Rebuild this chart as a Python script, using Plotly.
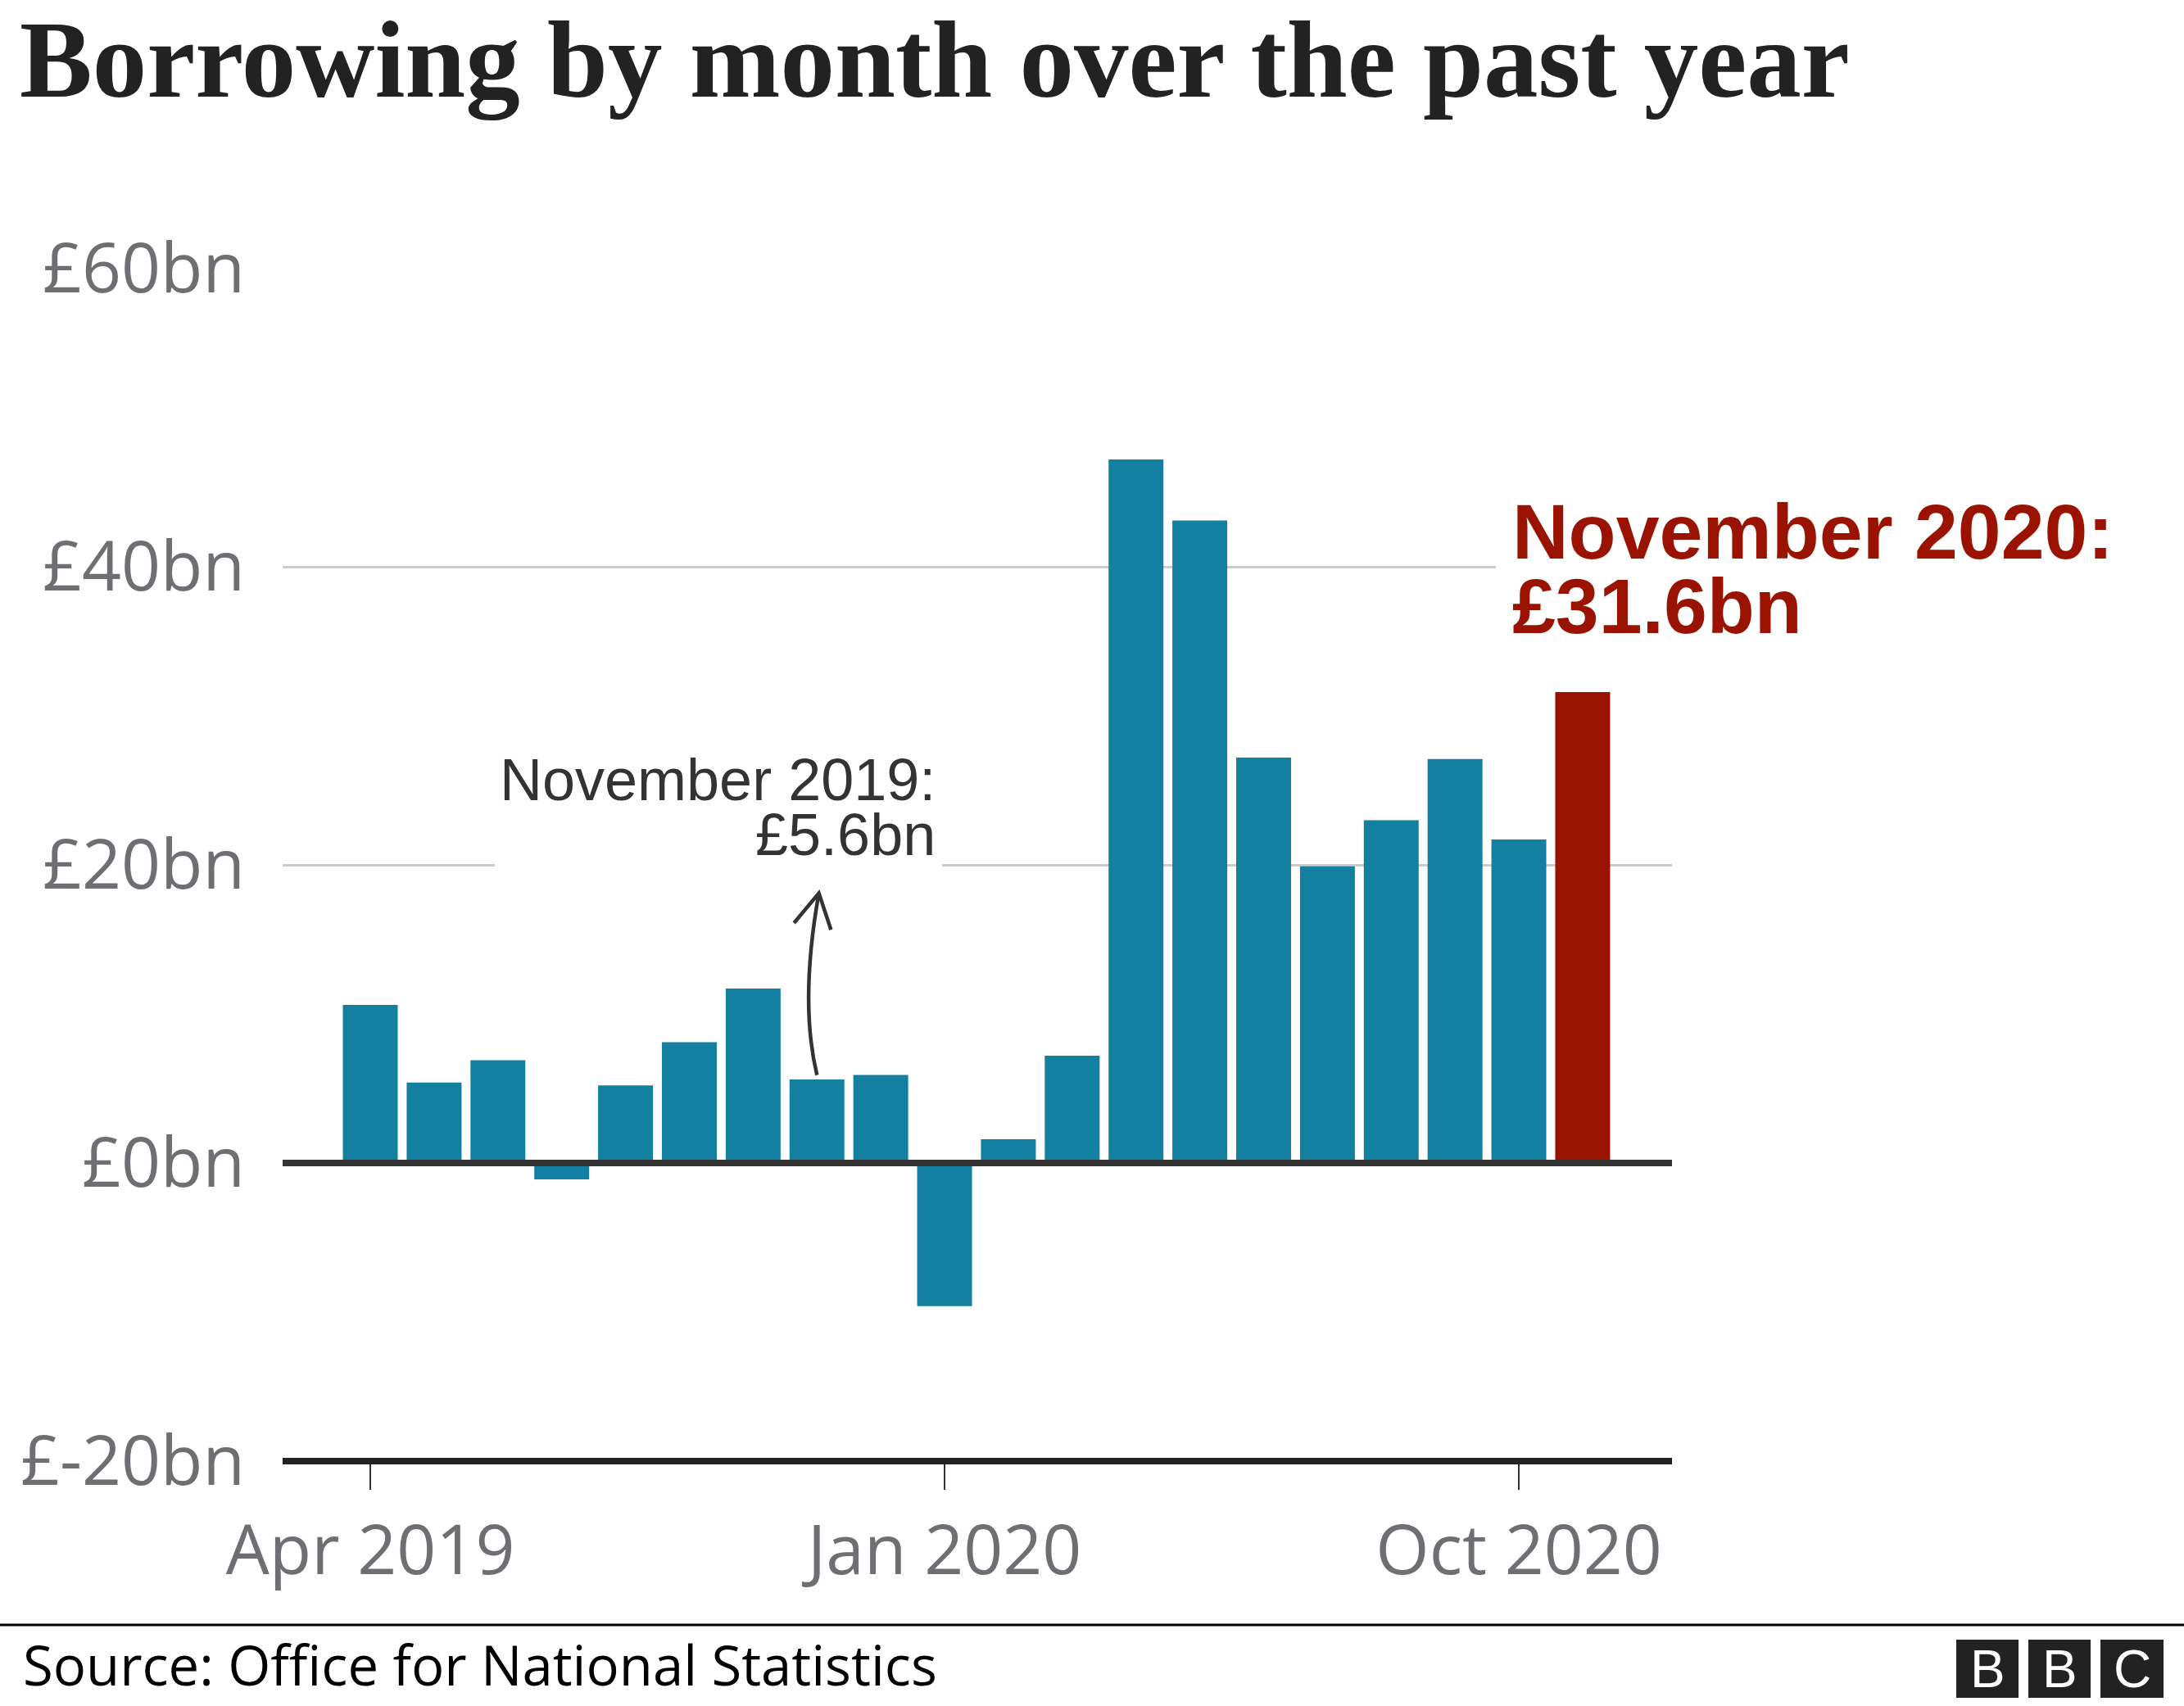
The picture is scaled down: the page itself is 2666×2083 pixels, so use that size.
import plotly.graph_objects as go

# ---------------- data ----------------
months = ["Apr 2019", "May 2019", "Jun 2019", "Jul 2019", "Aug 2019", "Sep 2019",
          "Oct 2019", "Nov 2019", "Dec 2019", "Jan 2020", "Feb 2020", "Mar 2020",
          "Apr 2020", "May 2020", "Jun 2020", "Jul 2020", "Aug 2020", "Sep 2020",
          "Oct 2020", "Nov 2020"]
borrowing_bn = [10.6, 5.4, 6.9, -1.1, 5.2, 8.1, 11.7, 5.6, 5.9, -9.6,
                1.6, 7.2, 47.2, 43.1, 27.2, 19.9, 23.0, 27.1, 21.7, 31.6]
highlight_month = "Nov 2020"
note_month = "Nov 2019"
x_tick_labels = ["Apr 2019", "Jan 2020", "Oct 2020"]
y_tick_values = [-20, 0, 20, 40, 60]
y_tick_labels = ["£-20bn", "£0bn", "£20bn", "£40bn", "£60bn"]

title_text = "Borrowing by month over the past year"
note_lines = ["November 2019:", "£5.6bn"]
highlight_lines = ["November 2020:", "£31.6bn"]
source_text = "Source: Office for National Statistics"

# ---------------- styling ----------------
BLUE = "#1380A1"
RED = "#9A1300"
GREY_TXT = "#6E6E73"
GRID = "#CCCCCC"
DARK = "#333333"

W, H = 2666, 2083
PL, PR, PT, PB = 345, 2041, 328, 1784
XR = [-1.374, 20.40]
YR = [-20, 60]


def px_x(px):
    return (px - PL) / (PR - PL)


def px_y(py):
    return (PB - py) / (PB - PT)


def dx(px):
    return XR[0] + (px - PL) / (PR - PL) * (XR[1] - XR[0])


def dy(py):
    return YR[0] + (PB - py) / (PB - PT) * (YR[1] - YR[0])


x_idx = list(range(len(months)))
colors = [RED if m == highlight_month else BLUE for m in months]

fig = go.Figure(go.Bar(x=x_idx, y=borrowing_bn,
                       marker=dict(color=colors, line=dict(width=0)),
                       hoverinfo="skip"))

fig.update_layout(
    width=W, height=H,
    margin=dict(l=PL, r=W - PR, t=PT, b=H - PB, pad=0),
    paper_bgcolor="white", plot_bgcolor="white",
    showlegend=False, bargap=0.14,
    xaxis=dict(range=XR, tickmode="array",
               tickvals=[months.index(t) for t in x_tick_labels],
               ticktext=x_tick_labels,
               ticks="outside", ticklen=34, tickwidth=2, tickcolor=DARK,
               showgrid=False, zeroline=False, showline=False,
               tickfont=dict(family="Open Sans", size=84, color=GREY_TXT),
               ticklabelstandoff=2),
    yaxis=dict(range=YR, tickmode="array", tickvals=y_tick_values,
               ticktext=y_tick_labels, showgrid=True, gridcolor=GRID,
               gridwidth=3, zeroline=False, showline=False, ticks="",
               tickfont=dict(family="Open Sans", size=84, color=GREY_TXT),
               ticklabelstandoff=45),
)

shapes = []
# white covers that interrupt gridlines behind labels
shapes.append(dict(type="rect", xref="x", yref="y", x0=dx(604), x1=dx(1150),
                   y0=19, y1=21, fillcolor="white", line=dict(width=0),
                   layer="between"))
shapes.append(dict(type="rect", xref="x", yref="y", x0=dx(1826), x1=XR[1] + 1,
                   y0=39, y1=41, fillcolor="white", line=dict(width=0),
                   layer="between"))
# zero line
shapes.append(dict(type="line", xref="paper", yref="y", x0=0, x1=1, y0=0, y1=0,
                   line=dict(color=DARK, width=8), layer="above"))
# bottom axis line
shapes.append(dict(type="line", xref="paper", yref="paper", x0=0, x1=1, y0=0, y1=0,
                   line=dict(color="#222222", width=8), layer="above"))
# separator above source
shapes.append(dict(type="line", xref="paper", yref="paper", x0=px_x(0), x1=px_x(W),
                   y0=px_y(1984), y1=px_y(1984),
                   line=dict(color="black", width=3), layer="above"))

# curved arrow from Nov 2019 bar up to its label
ni = months.index(note_month)
nv = borrowing_bn[ni]
x0a, y0a = ni, nv + 0.3
x1a, y1a = ni + 0.03, nv + 12.5
cxa, cya = ni - 0.275, nv + 5.2
shapes.append(dict(type="path", xref="x", yref="y",
                   path=f"M {x0a},{y0a} Q {cxa},{cya} {x1a},{y1a}",
                   line=dict(color=DARK, width=4.5), layer="above"))
shapes.append(dict(type="path", xref="x", yref="y",
                   path=f"M {ni - 0.36},{nv + 10.5} L {x1a},{y1a} L {ni + 0.22},{nv + 10.05}",
                   line=dict(color=DARK, width=4.5), layer="above"))

# BBC logo blocks
logo_boxes = [(2388, 2464), (2476, 2552), (2564, 2641)]
for l, r in logo_boxes:
    shapes.append(dict(type="rect", xref="paper", yref="paper",
                       x0=px_x(l), x1=px_x(r), y0=px_y(2073), y1=px_y(2002),
                       fillcolor="#222222", line=dict(width=0), layer="above"))

fig.update_layout(shapes=shapes)

ann = []
# title
ann.append(dict(text=title_text, xref="paper", yref="paper", x=px_x(22), y=px_y(118 - 0.3375 * 133),
                xanchor="left", yanchor="middle", showarrow=False,
                font=dict(family="Liberation Serif", size=133, color="#222222", weight="bold")))
# Nov 2019 note
for i, line in enumerate(note_lines):
    base = 977 + 67 * i
    ann.append(dict(text=line, xref="x", yref="y", x=dx(1144), y=dy(base - 0.3465 * 72),
                    xanchor="right", yanchor="middle", showarrow=False,
                    font=dict(family="Liberation Sans", size=72, color=DARK)))
# Nov 2020 highlight
for i, line in enumerate(highlight_lines):
    base = 682 + 91 * i
    ann.append(dict(text=line, xref="x", yref="y", x=dx(1844), y=dy(base - 0.3465 * 95),
                    xanchor="left", yanchor="middle", showarrow=False,
                    font=dict(family="Liberation Sans", size=95, color=RED, weight="bold")))
# source
ann.append(dict(text=source_text, xref="paper", yref="paper", x=px_x(26), y=px_y(2058 - 0.388 * 67),
                xanchor="left", yanchor="middle", showarrow=False,
                font=dict(family="Open Sans", size=67, color="black")))
# BBC letters
for (l, r), letter in zip(logo_boxes, "BBC"):
    ann.append(dict(text=letter, xref="paper", yref="paper", x=px_x((l + r) / 2),
                    y=px_y(2038), xanchor="center", yanchor="middle", showarrow=False,
                    font=dict(family="Liberation Sans", size=64, color="white")))

fig.update_layout(annotations=ann)

fig.write_html("out.html",
               config={"displayModeBar": False, "staticPlot": True},
               post_script="document.body.style.margin='0';document.body.style.overflow='hidden';")
